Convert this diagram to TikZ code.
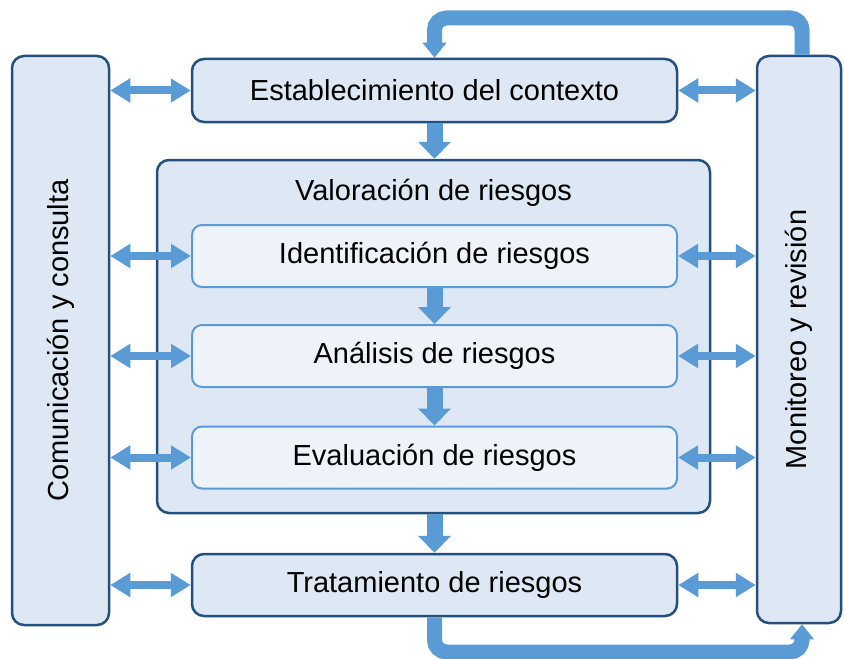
\documentclass[tikz,border=0pt]{standalone}
\usepackage{fontspec}
\setmainfont{Liberation Sans}
\usepackage{tikz}
\usetikzlibrary{arrows.meta}
\usetikzlibrary{positioning}
\definecolor{darkblue}{HTML}{24507E}
\definecolor{boxfill}{HTML}{DEE8F4}
\definecolor{innerfill}{HTML}{EEF3FA}
\definecolor{arrowblue}{HTML}{5B9BD5}

\begin{document}
\begin{tikzpicture}[x=0.5pt, y=-0.5pt,
  outerbox/.style={draw=darkblue, fill=boxfill, line width=1.25pt, rounded corners=6pt, inner sep=0pt},
  innerbox/.style={draw=arrowblue, fill=innerfill, line width=1pt, rounded corners=5pt, inner sep=0pt,
    minimum width=242.5pt, minimum height=31pt},
  label/.style={font=\fontsize{14.5}{17}\selectfont, text=black},
  twoway/.style={arrowblue, line width=4pt, {Triangle[width=11.5pt,length=10pt]}-{Triangle[width=11.5pt,length=10pt]}},
  down/.style={arrowblue, line width=8pt, -{Triangle[width=16pt,length=8.5pt]}},
  feedback/.style={arrowblue, line width=7.5pt, rounded corners=6pt, -{Triangle[width=11.5pt,length=7.5pt]}}]
\useasboundingbox (0,0) rectangle (844,658);
\node[outerbox, minimum width=48.5pt, minimum height=284.5pt] (comu) at (60.5,340.5) {};
\node[label, rotate=90] (comutext) at (comu.center) {Comunicación y consulta};
\node[outerbox, minimum width=42pt, minimum height=283.5pt] (moni) at (799,339.5) {};
\node[label, rotate=90] (monitext) at (moni.center) {Monitoreo y revisión};
\node[outerbox, label, minimum width=242.5pt, minimum height=31.5pt] (estab) at (434.5,90.5) {Establecimiento del contexto};
\node[outerbox, minimum width=276.5pt, minimum height=176.5pt] (valor) at (433.5,336.5) {};
\node[label] (valortext) at (433.5,193) {Valoración de riesgos};
\node[innerbox, label] (ident) at (434.5,256) {Identificación de riesgos};
\node[innerbox, label] (anal) at (434.5,356) {Análisis de riesgos};
\node[innerbox, label] (eval) at (434.5,457.5) {Evaluación de riesgos};
\node[outerbox, label, minimum width=242.5pt, minimum height=31pt] (trat) at (434.5,585) {Tratamiento de riesgos};
\coordinate (topline) at (0,18);
\coordinate (botline) at (0,652);
\draw[down] (estab.south) -- (estab.south |- valor.north);
\draw[down] (ident.south) -- (anal.north);
\draw[down] (anal.south) -- (eval.north);
\draw[down] (valor.south -| trat.north) -- (trat.north);
\foreach \n in {estab, ident, anal, eval, trat} {
  \draw[twoway] (comu.east |- \n.west) -- (\n.west);
  \draw[twoway] (\n.east) -- (moni.west |- \n.east);
}
\draw[feedback] ([xshift=1.5pt]moni.north) -- ([xshift=1.5pt]moni.north |- topline) -- (estab.north |- topline) -- (estab.north);
\draw[feedback] (trat.south) -- (trat.south |- botline) -- ([xshift=1.5pt]moni.south |- botline) -- ([xshift=1.5pt]moni.south);
\end{tikzpicture}
\end{document}
